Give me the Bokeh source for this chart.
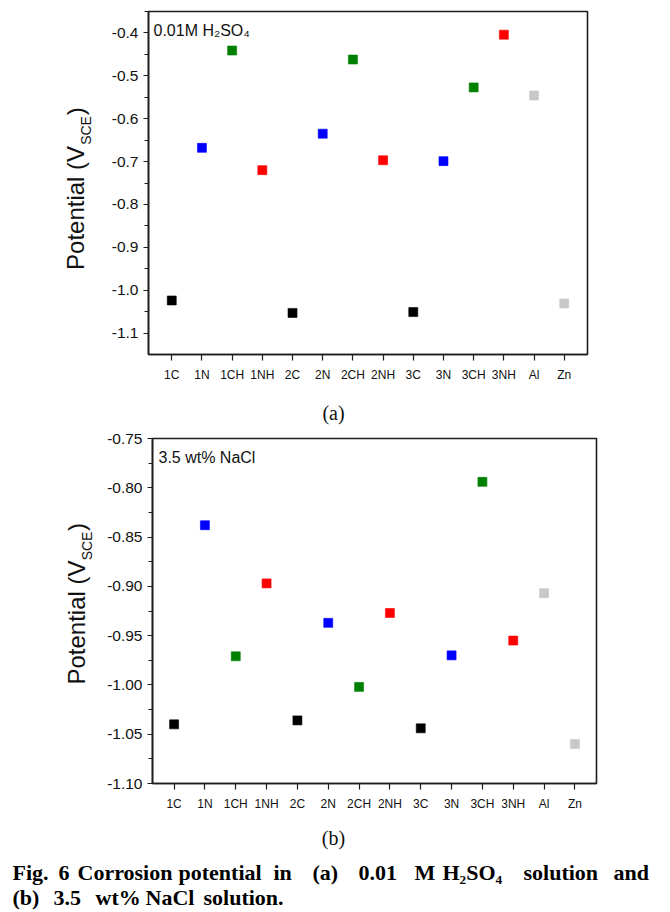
from math import pi
from bokeh.plotting import figure
from bokeh.models import Range1d, FactorRange, SingleIntervalTicker, NumeralTickFormatter, Label
from bokeh.layouts import column, row
from bokeh.core.properties import value
from bokeh.embed import file_html
from bokeh.resources import INLINE

# ---------------- data ----------------
samples = ["1C", "1N", "1CH", "1NH", "2C", "2N", "2CH", "2NH",
           "3C", "3N", "3CH", "3NH", "Al", "Zn"]
h2so4_potential = [-1.024, -0.668, -0.441, -0.720, -1.053, -0.635, -0.462, -0.697,
                   -1.051, -0.699, -0.527, -0.404, -0.546, -1.031]
nacl_potential = [-1.040, -0.838, -0.971, -0.897, -1.036, -0.937, -1.002, -0.927,
                  -1.044, -0.970, -0.794, -0.955, -0.907, -1.060]
sample_colors = ["#000000", "#0000FF", "#008000", "#FF0000",
                 "#000000", "#0000FF", "#008000", "#FF0000",
                 "#000000", "#0000FF", "#008000", "#FF0000",
                 "#C8C8C8", "#C8C8C8"]

caption_line1 = ["Fig.", "6", "Corrosion", "potential", "in", "(a)", "0.01", "M",
                 "H\u2082SO\u2084", "solution", "and"]
caption_line2 = ["(b)", "3.5", "wt%", "NaCl", "solution."]

SANS = "Liberation Sans"
SERIF = "Liberation Serif"
AXC = "#1e1e1e"
TXT = "#111111"

# page geometry (pixels from the picture's top-left)
TOTAL_W = 668
LEFT_W = 100          # width of the y-label strip


def text_fig(width, top, bottom, left=0):
    """Text-only figure whose data coordinates are page pixels (y negated)."""
    f = figure(width=width, height=bottom - top,
               x_range=Range1d(left, left + width), y_range=Range1d(-bottom, -top),
               output_backend="svg", toolbar_location=None,
               x_axis_location=None, y_axis_location=None, min_border=0)
    f.xgrid.visible = False
    f.ygrid.visible = False
    f.outline_line_color = None
    return f


def make_panel(values, y_start, y_end, interval, fmt, pad, height,
               b_left, b_right, b_top, b_bottom):
    p = figure(width=TOTAL_W - LEFT_W, height=height,
               x_range=FactorRange(factors=samples, range_padding=pad),
               y_range=Range1d(y_start, y_end),
               output_backend="svg", toolbar_location=None,
               min_border_left=b_left, min_border_right=b_right,
               min_border_top=b_top, min_border_bottom=b_bottom)
    p.scatter(x=samples, y=values, marker="square", size=9,
              fill_color=sample_colors, line_color=sample_colors, line_width=0.6)
    p.xgrid.visible = False
    p.ygrid.visible = False
    p.outline_line_color = AXC
    p.outline_line_width = 1.6

    ya = p.yaxis[0]
    ya.ticker = SingleIntervalTicker(interval=interval, num_minor_ticks=2)
    ya.formatter = NumeralTickFormatter(format=fmt)
    ya.major_label_text_font = SANS
    ya.major_label_text_font_size = "15.5px"
    ya.major_label_text_color = TXT
    ya.major_tick_out = 5
    ya.major_tick_in = 0
    ya.minor_tick_out = 4
    ya.minor_tick_in = 0
    ya.major_label_standoff = 5
    ya.axis_line_color = AXC
    ya.axis_line_width = 1.6
    ya.major_tick_line_color = AXC
    ya.minor_tick_line_color = AXC
    ya.major_tick_line_width = 1.2
    ya.minor_tick_line_width = 1.2

    xa = p.xaxis[0]
    xa.major_label_text_font = SANS
    xa.major_label_text_font_size = "12px"
    xa.major_label_text_color = TXT
    xa.major_tick_out = 6
    xa.major_tick_in = 0
    xa.major_label_standoff = 7
    xa.axis_line_color = AXC
    xa.axis_line_width = 1.6
    xa.major_tick_line_color = AXC
    xa.major_tick_line_width = 1.2
    return p


def ylabel(f, cx, cy_main, cx_sub, cy_sub, cy_close):
    kw = dict(angle=pi / 2, text_color=TXT, text_align="center",
              text_baseline="middle", text_font=value(SANS))
    f.text(x=[cx], y=[-cy_main], text=["Potential (V"], text_font_size="24px", **kw)
    f.text(x=[cx_sub], y=[-cy_sub], text=["SCE"], text_font_size="14px", **kw)
    f.text(x=[cx], y=[-cy_close], text=[")"], text_font_size="24px", **kw)


# ---------------- panel (a) ----------------
A_TOP, A_BOT = 0, 385
pa = make_panel(h2so4_potential, -1.15, -0.35, 0.1, "0.0", 0.0386, A_BOT - A_TOP,
                148 - LEFT_W, TOTAL_W - 587, 11 - A_TOP, A_BOT - 354)
pa.add_layout(Label(x=5, y=324.5, x_units="screen", y_units="screen",
                    text="0.01M H\u2082SO\u2084", text_font=SANS, text_font_size="16px",
                    text_color=TXT, text_align="left", text_baseline="alphabetic"))
la = text_fig(LEFT_W, A_TOP, A_BOT)
ylabel(la, 75.2, 220.5, 85.2, 133.5, 112)

CA_TOP, CA_BOT = A_BOT, 425
ca = text_fig(TOTAL_W, CA_TOP, CA_BOT)
ca.text(x=[333], y=[-412], text=["(a)"], text_font=value(SERIF), text_font_size="20px",
        text_color=TXT, text_align="center", text_baseline="alphabetic")

# ---------------- panel (b) ----------------
B_TOP, B_BOT = CA_BOT, 815
pb = make_panel(nacl_potential, -1.10, -0.75, 0.05, "0.00", 0.0286, B_BOT - B_TOP,
                152 - LEFT_W, TOTAL_W - 596, 438 - B_TOP, B_BOT - 783)
pb.add_layout(Label(x=6, y=326, x_units="screen", y_units="screen",
                    text="3.5 wt% NaCl", text_font=SANS, text_font_size="16px",
                    text_color=TXT, text_align="left", text_baseline="alphabetic"))
lb = text_fig(LEFT_W, B_TOP, B_BOT)
ylabel(lb, 76.2, 633, 86.2, 546.5, 525)

# ---------------- caption ----------------
CB_TOP, CB_BOT = B_BOT, 910
cb = text_fig(TOTAL_W, CB_TOP, CB_BOT)
cb.text(x=[333], y=[-837], text=["(b)"], text_font=value(SERIF), text_font_size="20px",
        text_color=TXT, text_align="center", text_baseline="alphabetic")

line1_x = [12, 58, 77, 178, 273, 312, 358, 414, 442, 523, 613]
line2_x = [12, 53, 95, 145, 203]
cb.text(x=line1_x, y=[-872] * len(line1_x), text=caption_line1,
        text_font=value(SERIF), text_font_size="22px", text_font_style="bold",
        text_color="#000000", text_align="left", text_baseline="alphabetic")
cb.text(x=line2_x, y=[-897] * len(line2_x), text=caption_line2,
        text_font=value(SERIF), text_font_size="22px", text_font_style="bold",
        text_color="#000000", text_align="left", text_baseline="alphabetic")

layout = column(row(la, pa, spacing=0), ca, row(lb, pb, spacing=0), cb, spacing=0)
open("out.html", "w").write(file_html(layout, INLINE))
